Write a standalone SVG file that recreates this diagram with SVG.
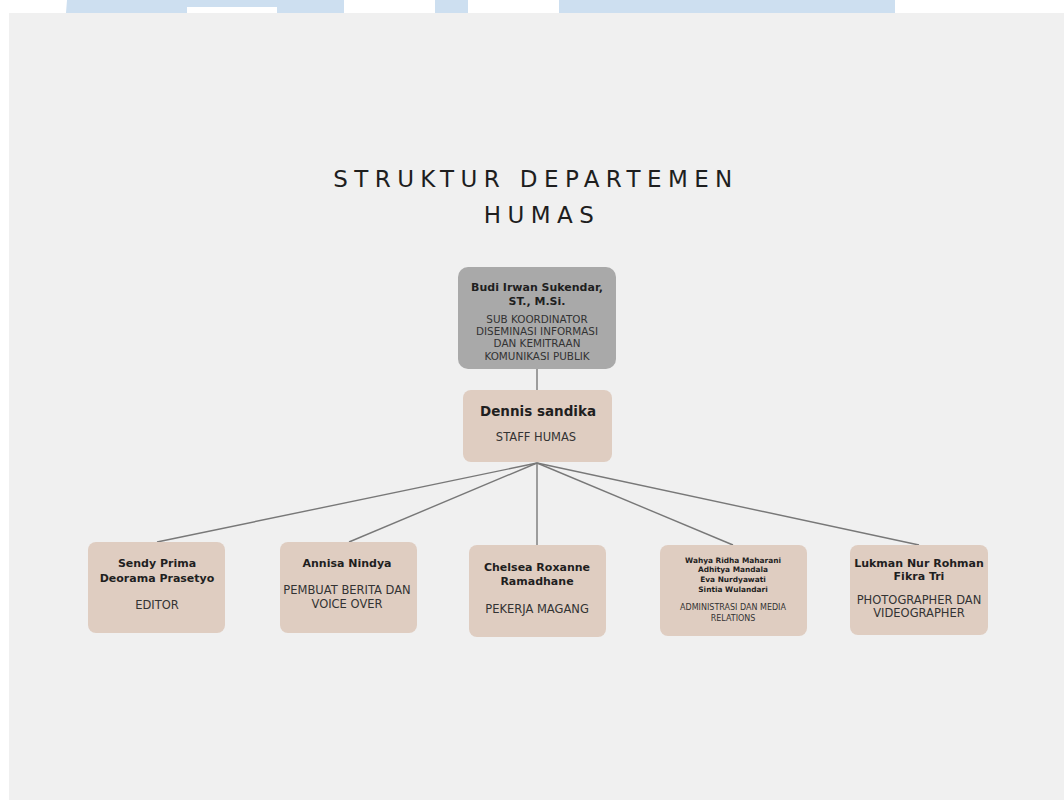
<svg xmlns="http://www.w3.org/2000/svg" width="1064" height="800" viewBox="0 0 1064 800">
<style>
.bg{fill:#ffffff}
.panel{fill:#f0f0f0}
.wm{fill:#cddff0}
.title{font-family:"DejaVu Sans","Liberation Sans",sans-serif;font-size:23px;fill:#1e1e1e;letter-spacing:6.4px;text-anchor:middle}
.box{fill:#dfcdc1}
.boxg{fill:#a9a9a9}
.name{font-family:"DejaVu Sans","Liberation Sans",sans-serif;font-weight:700;font-size:11px;fill:#1f1f1f;text-anchor:middle}
.role{font-family:"DejaVu Sans","Liberation Sans",sans-serif;font-size:11.5px;fill:#333333;text-anchor:middle}
.small{font-family:"DejaVu Sans","Liberation Sans",sans-serif;font-weight:700;font-size:7.4px;fill:#1f1f1f;text-anchor:middle}
.srole{font-family:"DejaVu Sans","Liberation Sans",sans-serif;font-size:8px;fill:#333333;text-anchor:middle}
.conn{stroke:#787878;stroke-width:1.4;fill:none}
</style>
<rect class="bg" x="0" y="0" width="1064" height="800"/>
<g id="watermark">
<path class="wm" d="M67,0 H344 V13 H277 V7 H187 V13 H66 Z"/>
<rect class="wm" x="435" y="0" width="33" height="13"/>
<rect class="wm" x="559" y="0" width="336" height="13"/>
</g>
<rect class="panel" x="9" y="13" width="1055" height="787"/>
<g id="title">
<text class="title" x="536" y="187">STRUKTUR DEPARTEMEN</text>
<text class="title" x="542" y="223">HUMAS</text>
</g>
<g id="connectors">
<line class="conn" x1="537" y1="369" x2="537" y2="390"/>
<line class="conn" x1="537" y1="463" x2="157" y2="542"/>
<line class="conn" x1="537" y1="463" x2="349" y2="542"/>
<line class="conn" x1="537" y1="463" x2="537" y2="545"/>
<line class="conn" x1="537" y1="463" x2="733" y2="545"/>
<line class="conn" x1="537" y1="463" x2="919" y2="545"/>
</g>
<g id="node-budi">
<rect class="boxg" x="458" y="267" width="158" height="102" rx="10"/>
<text class="name" x="537" y="291">Budi Irwan Sukendar,</text>
<text class="name" x="537" y="305">ST., M.Si.</text>
<text class="role" x="537" y="323" style="font-size:10.4px">SUB KOORDINATOR</text>
<text class="role" x="537" y="335" style="font-size:10.4px">DISEMINASI INFORMASI</text>
<text class="role" x="537" y="347" style="font-size:10.4px">DAN KEMITRAAN</text>
<text class="role" x="537" y="360" style="font-size:10.4px">KOMUNIKASI PUBLIK</text>
</g>
<g id="node-dennis">
<rect class="box" x="463" y="390" width="149" height="72" rx="8"/>
<text class="name" x="538" y="416" style="font-size:13.5px">Dennis sandika</text>
<text class="role" x="536" y="441">STAFF HUMAS</text>
</g>
<g id="node-sendy">
<rect class="box" x="88" y="542" width="137" height="91" rx="8"/>
<text class="name" x="157" y="567">Sendy Prima</text>
<text class="name" x="157" y="582">Deorama Prasetyo</text>
<text class="role" x="157" y="609">EDITOR</text>
</g>
<g id="node-annisa">
<rect class="box" x="280" y="542" width="137" height="91" rx="8"/>
<text class="name" x="347" y="567">Annisa Nindya</text>
<text class="role" x="347" y="594">PEMBUAT BERITA DAN</text>
<text class="role" x="347" y="608">VOICE OVER</text>
</g>
<g id="node-chelsea">
<rect class="box" x="469" y="545" width="137" height="92" rx="8"/>
<text class="name" x="537" y="571">Chelsea Roxanne</text>
<text class="name" x="537" y="585">Ramadhane</text>
<text class="role" x="537" y="613">PEKERJA MAGANG</text>
</g>
<g id="node-admin">
<rect class="box" x="660" y="545" width="147" height="91" rx="8"/>
<text class="small" x="733" y="563">Wahya Ridha Maharani</text>
<text class="small" x="733" y="572">Adhitya Mandala</text>
<text class="small" x="733" y="582">Eva Nurdyawati</text>
<text class="small" x="733" y="592">Sintia Wulandari</text>
<text class="srole" x="733" y="610">ADMINISTRASI DAN MEDIA</text>
<text class="srole" x="733" y="621">RELATIONS</text>
</g>
<g id="node-lukman">
<rect class="box" x="850" y="545" width="138" height="90" rx="8"/>
<text class="name" x="919" y="567">Lukman Nur Rohman</text>
<text class="name" x="919" y="580">Fikra Tri</text>
<text class="role" x="919" y="604">PHOTOGRAPHER DAN</text>
<text class="role" x="919" y="617">VIDEOGRAPHER</text>
</g>
</svg>
